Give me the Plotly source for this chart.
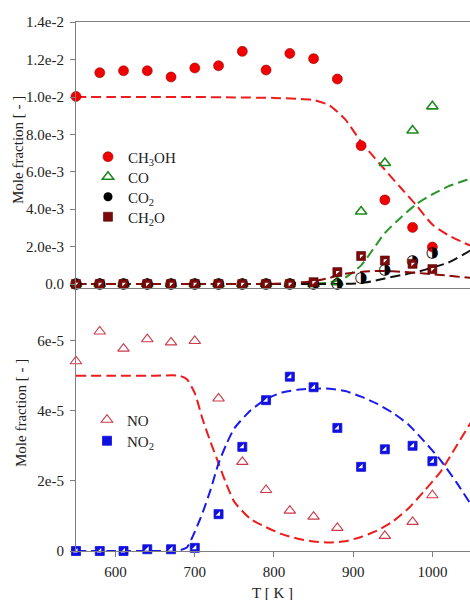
import plotly.graph_objects as go
from plotly.subplots import make_subplots

# ---------------- data ----------------
T_exp = [550, 580, 610, 640, 670, 700, 730, 760, 790, 820, 850, 880, 910, 940, 975, 1000]
ch3oh_exp = [1.003e-2, 1.13e-2, 1.14e-2, 1.14e-2, 1.107e-2, 1.155e-2, 1.167e-2, 1.244e-2,
             1.144e-2, 1.233e-2, 1.205e-2, 1.096e-2, 7.4e-3, 4.5e-3, 3.03e-3, 1.98e-3]
co_exp = [0, 0, 0, 0, 0, 0, 0, 0, 0, 0, 0, 1.0e-4, 3.88e-3, 6.47e-3, 8.21e-3, 9.5e-3]
co2_exp = [0, 0, 0, 0, 0, 0, 0, 0, 0, 0, 0, 0, 3.2e-4, 7.6e-4, 1.2e-3, 1.64e-3]
ch2o_exp = [0, 0, 0, 0, 0, 0, 0, 0, 0, 0, 1.0e-4, 6.4e-4, 1.5e-3, 1.26e-3, 1.08e-3, 8.0e-4]
no_exp = [5.41e-5, 6.26e-5, 5.77e-5, 6.04e-5, 5.95e-5, 5.99e-5, 4.35e-5, 2.54e-5,
          1.74e-5, 1.15e-5, 9.8e-6, 6.6e-6, None, 4.3e-6, 8.3e-6, 1.59e-5]
no2_exp = [0, 0, 0, 5e-7, 5e-7, 9e-7, 1.05e-5, 2.97e-5, 4.3e-5, 4.97e-5, 4.67e-5,
           3.51e-5, 2.4e-5, 2.9e-5, 3.0e-5, 2.56e-5]

T_mod_top = [550, 600, 650, 700, 750, 800, 830, 850, 870, 890, 910, 925, 940, 960, 980, 1000, 1020, 1040, 1060]
ch3oh_mod = [1.0e-2, 1.0e-2, 1.0e-2, 1.0e-2, 9.98e-3, 9.95e-3, 9.9e-3, 9.84e-3, 9.55e-3, 8.8e-3,
             7.6e-3, 6.85e-3, 6.11e-3, 5.15e-3, 4.2e-3, 3.18e-3, 2.62e-3, 2.2e-3, 1.85e-3]
co_mod = [0, 0, 0, 0, 0, 0, 0, 2e-5, 8e-5, 3.5e-4, 1.0e-3, 1.85e-3, 2.73e-3, 3.55e-3, 4.28e-3,
          4.8e-3, 5.22e-3, 5.52e-3, 5.78e-3]
co2_mod = [0, 0, 0, 0, 0, 0, 0, 0, 0, 1e-5, 5e-5, 1.6e-4, 3.0e-4, 4.7e-4, 6.4e-4, 8.8e-4,
           1.15e-3, 1.6e-3, 2.1e-3]
ch2o_mod = [0, 0, 0, 0, 0, 2e-5, 8e-5, 1.5e-4, 3.3e-4, 5.5e-4, 6.5e-4, 6.9e-4, 7.0e-4, 6.6e-4,
            6.0e-4, 5.2e-4, 4.5e-4, 3.6e-4, 3.0e-4]

T_mod_bot = [550, 600, 650, 680, 690, 700, 710, 720, 730, 740, 750, 770, 790, 810, 830, 850, 870,
             890, 910, 930, 950, 970, 990, 1010, 1030, 1050, 1060]
no_mod = [5.0e-5, 5.0e-5, 5.0e-5, 5.0e-5, 4.9e-5, 4.5e-5, 3.75e-5, 3.1e-5, 2.5e-5, 1.9e-5, 1.4e-5,
          9.2e-6, 6.8e-6, 4.8e-6, 3.5e-6, 2.7e-6, 2.4e-6, 2.8e-6, 4.0e-6, 5.8e-6, 8.4e-6, 1.22e-5,
          1.72e-5, 2.25e-5, 2.98e-5, 3.72e-5, 4.1e-5]
no2_mod = [0, 0, 0, 2e-7, 1.0e-6, 5.5e-6, 1.1e-5, 1.75e-5, 2.5e-5, 3.05e-5, 3.5e-5, 4.0e-5, 4.33e-5,
           4.52e-5, 4.6e-5, 4.63e-5, 4.63e-5, 4.56e-5, 4.4e-5, 4.2e-5, 3.94e-5, 3.6e-5, 3.12e-5,
           2.6e-5, 1.97e-5, 1.28e-5, 9.5e-6]

top_tickvals = [0, 2e-3, 4e-3, 6e-3, 8e-3, 1.0e-2, 1.2e-2, 1.4e-2]
top_ticktext = ["0.0", "2.0e-3", "4.0e-3", "6.0e-3", "8.0e-3", "1.0e-2", "1.2e-2", "1.4e-2"]
bot_tickvals = [0, 2e-5, 4e-5, 6e-5]
bot_ticktext = ["0", "2e-5", "4e-5", "6e-5"]
x_tickvals = [600, 700, 800, 900, 1000]

# ---------------- figure ----------------
FONT = "Liberation Serif"
W, H = 470, 600
fig = make_subplots(rows=2, cols=1, shared_xaxes=True, vertical_spacing=0.0,
                    row_heights=[0.5028, 0.4972])

dash = "10px,5px"

def line(x, y, color, row):
    fig.add_trace(go.Scatter(x=x, y=y, mode="lines", line=dict(color=color, width=2, dash=dash, shape="spline", smoothing=0.6),
                             showlegend=False, hoverinfo="skip"), row=row, col=1)

line(T_mod_top, ch3oh_mod, "#ee1c1c", 1)
line(T_mod_top, co_mod, "#2a962a", 1)
line(T_mod_top, co2_mod, "#111111", 1)
line(T_mod_top, ch2o_mod, "#8b0a0a", 1)
line(T_mod_bot, no_mod, "#ee1c1c", 2)
line(T_mod_bot, no2_mod, "#1a1aee", 2)

# experimental markers (top)
fig.add_trace(go.Scatter(x=T_exp, y=ch3oh_exp, mode="markers", name="CH<sub>3</sub>OH", legend="legend",
                         marker=dict(symbol="circle", size=10, color="#f00000", line=dict(color="#a00000", width=0.6)),
                         cliponaxis=False), row=1, col=1)
fig.add_trace(go.Scatter(x=T_exp, y=co_exp, mode="markers", name="CO", legend="legend2",
                         marker=dict(symbol="triangle-up-open", size=10, color="#1f8a1f", line=dict(width=1.6)),
                         cliponaxis=False), row=1, col=1)
# CO2: half-filled circle drawn as glyph; legend entry via empty marker trace
fig.add_trace(go.Scatter(x=T_exp, y=co2_exp, mode="text", text=["\u25d1"] * len(T_exp), showlegend=False,
                         textfont=dict(family="DejaVu Sans", size=15, color="#000000"),
                         textposition="middle center", cliponaxis=False), row=1, col=1)
fig.add_trace(go.Scatter(x=[None], y=[None], mode="markers", name="CO<sub>2</sub>", legend="legend3",
                         marker=dict(symbol="circle", size=9, color="#000000")), row=1, col=1)
fig.add_trace(go.Scatter(x=T_exp, y=ch2o_exp, mode="markers", name="CH<sub>2</sub>O", legend="legend4",
                         marker=dict(symbol="square", size=9, color="#7a0a0a", line=dict(color="#5a0000", width=0.6)),
                         cliponaxis=False), row=1, col=1)
fig.add_trace(go.Scatter(x=T_exp, y=ch2o_exp, mode="markers", showlegend=False, hoverinfo="skip",
                         marker=dict(symbol="triangle-nw", size=4, color="#ffffff", line=dict(width=0)),
                         cliponaxis=False), row=1, col=1)

# experimental markers (bottom)
fig.add_trace(go.Scatter(x=T_exp, y=no_exp, mode="markers", name="NO", legend="legend5",
                         marker=dict(symbol="triangle-up-open", size=10, color="#cc3a4a", line=dict(width=1.1)),
                         cliponaxis=False), row=2, col=1)
fig.add_trace(go.Scatter(x=T_exp, y=no2_exp, mode="markers", name="NO<sub>2</sub>", legend="legend6",
                         marker=dict(symbol="square", size=9, color="#1010e0", line=dict(color="#1010e0", width=0.8)),
                         cliponaxis=False), row=2, col=1)
fig.add_trace(go.Scatter(x=T_exp, y=no2_exp, mode="markers", showlegend=False, hoverinfo="skip",
                         marker=dict(symbol="triangle-se", size=5, color="#ffffff", line=dict(width=0)),
                         cliponaxis=False), row=2, col=1)

axis_common = dict(showgrid=False, zeroline=False, showline=True, linecolor="#7f7f7f", linewidth=1,
                   tickfont=dict(family=FONT, size=15, color="#222222"), tickcolor="#7f7f7f",
                   ticklen=5, tickwidth=1)

fig.update_xaxes(range=[550, 1047.5], **axis_common)
fig.update_xaxes(row=1, col=1, ticks="", showticklabels=False, mirror=True)
fig.update_xaxes(row=2, col=1, ticks="outside", tickvals=x_tickvals, ticklabelstandoff=2)
fig.update_yaxes(**axis_common)
fig.update_yaxes(row=1, col=1, range=[-2.1e-4, 1.401e-2], ticks="outside", tickvals=top_tickvals,
                 ticktext=top_ticktext, ticklabelstandoff=3)
fig.update_yaxes(row=2, col=1, range=[0, 7.5e-5], ticks="outside", tickvals=bot_tickvals,
                 ticktext=bot_ticktext, ticklabelstandoff=3)

ML, MT, MB = 76, 22, 49
ph = H - MT - MB

def py(px):
    return (H - MB - px) / ph

def pxx(px):
    return (px - ML) / (W - ML)

def leg(xpx, ypx):
    return dict(x=pxx(xpx), y=py(ypx), font=dict(family=FONT, size=15, color="#222222"),
                bgcolor="rgba(0,0,0,0)", borderwidth=0, xanchor="left", yanchor="middle", itemwidth=30)

fig.update_layout(
    width=W, height=H,
    margin=dict(l=ML, r=0, t=MT, b=MB),
    paper_bgcolor="white", plot_bgcolor="white",
    legend=leg(88, 157),
    legend2=leg(88, 177),
    legend3=leg(88, 197),
    legend4=leg(88, 217),
    legend5=leg(87, 420),
    legend6=leg(87, 441),
    annotations=[
        dict(text="Mole fraction [ - ]", x=pxx(18), y=py(150), xref="paper", yref="paper", showarrow=False,
             textangle=-90, font=dict(family=FONT, size=15, color="#222222"), xanchor="center", yanchor="middle"),
        dict(text="Mole fraction [ - ]", x=pxx(21), y=py(413), xref="paper", yref="paper", showarrow=False,
             textangle=-90, font=dict(family=FONT, size=15, color="#222222"), xanchor="center", yanchor="middle"),
        dict(text="T [ K ]", x=pxx(272), y=py(593), xref="paper", yref="paper", showarrow=False,
             font=dict(family=FONT, size=15, color="#222222"), xanchor="center", yanchor="middle"),
    ],
)

fig.write_html("out.html")
